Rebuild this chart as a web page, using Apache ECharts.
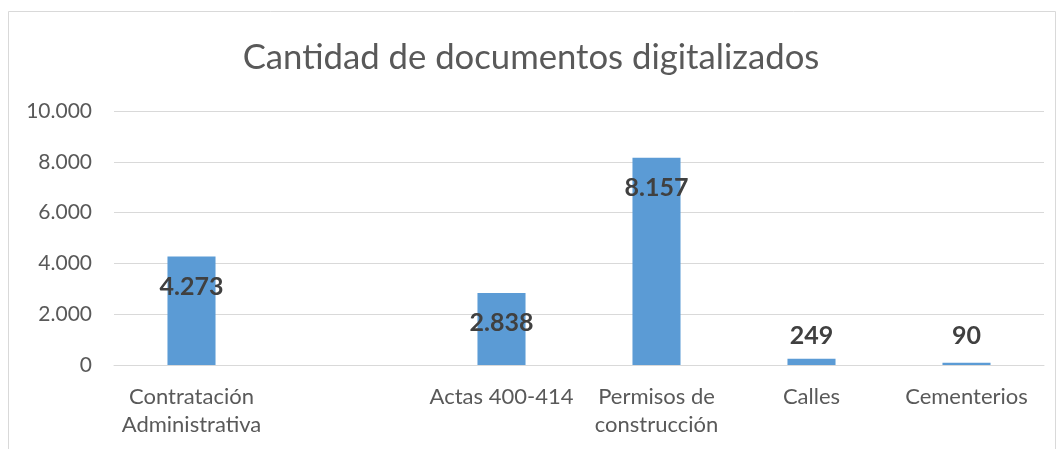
<!DOCTYPE html>
<html>
<head>
<meta charset="utf-8">
<script src="https://cdn.jsdelivr.net/npm/echarts@6/dist/echarts.min.js"></script>
<style>
  html, body { margin: 0; padding: 0; background: #fff; }
  #chart { width: 1062px; height: 449px; }
</style>
</head>
<body>
<div id="chart"></div>
<script>
const categories = ['Contratación\nAdministrativa', '', 'Actas 400-414', 'Permisos de\nconstrucción', 'Calles', 'Cementerios'];
const documentos = [4273, null, 2838, 8157, 249, 90];
const yTicks = [0, 2000, 4000, 6000, 8000, 10000];

const fmt = v => String(v).replace(/\B(?=(\d{3})+(?!\d))/g, '.');

const chart = echarts.init(document.getElementById('chart'), null, { renderer: 'canvas' });

chart.setOption({
  backgroundColor: '#fff',
  animation: false,
  title: {
    text: 'Cantidad de documentos digitalizados',
    left: 'center',
    top: 35,
    textStyle: { color: '#595959', fontSize: 34.7, fontWeight: 'normal', fontFamily: 'Lato' },
  },
  graphic: [{
    type: 'rect',
    shape: { x: 8.5, y: 11.5, width: 1047, height: 460 },
    style: { fill: 'none', stroke: '#d9d9d9', lineWidth: 1 },
    silent: true,
  }],
  grid: { left: 114, right: 18, top: 111, bottom: 84 },
  xAxis: {
    type: 'category',
    data: categories,
    axisLine: { show: true, lineStyle: { color: '#d9d9d9' } },
    axisTick: { show: false },
    axisLabel: {
      color: '#595959', fontSize: 22, fontFamily: 'Lato', lineHeight: 28, margin: 18, interval: 0,
    },
  },
  yAxis: {
    type: 'value',
    min: yTicks[0],
    max: yTicks[yTicks.length - 1],
    interval: yTicks[1] - yTicks[0],
    axisLine: { show: false },
    axisTick: { show: false },
    splitLine: { lineStyle: { color: '#d9d9d9', width: 1 } },
    axisLabel: { color: '#595959', fontSize: 21, fontFamily: 'Lato', margin: 22, formatter: v => fmt(v) },
  },
  series: [{
    type: 'bar',
    data: documentos.map(v => v == null ? '-' : {
      value: v,
      label: v < 1000
        ? { position: 'top', distance: v < 150 ? 14 : 10 }
        : { position: 'insideTop', distance: 18 },
    }),
    barWidth: '31%',
    itemStyle: { color: '#5b9bd5' },
    label: {
      show: true,
      color: '#404040',
      fontSize: 25,
      fontWeight: 'bold',
      fontFamily: 'Lato',
      formatter: p => fmt(p.value),
    },
  }],
});
</script>
</body>
</html>
